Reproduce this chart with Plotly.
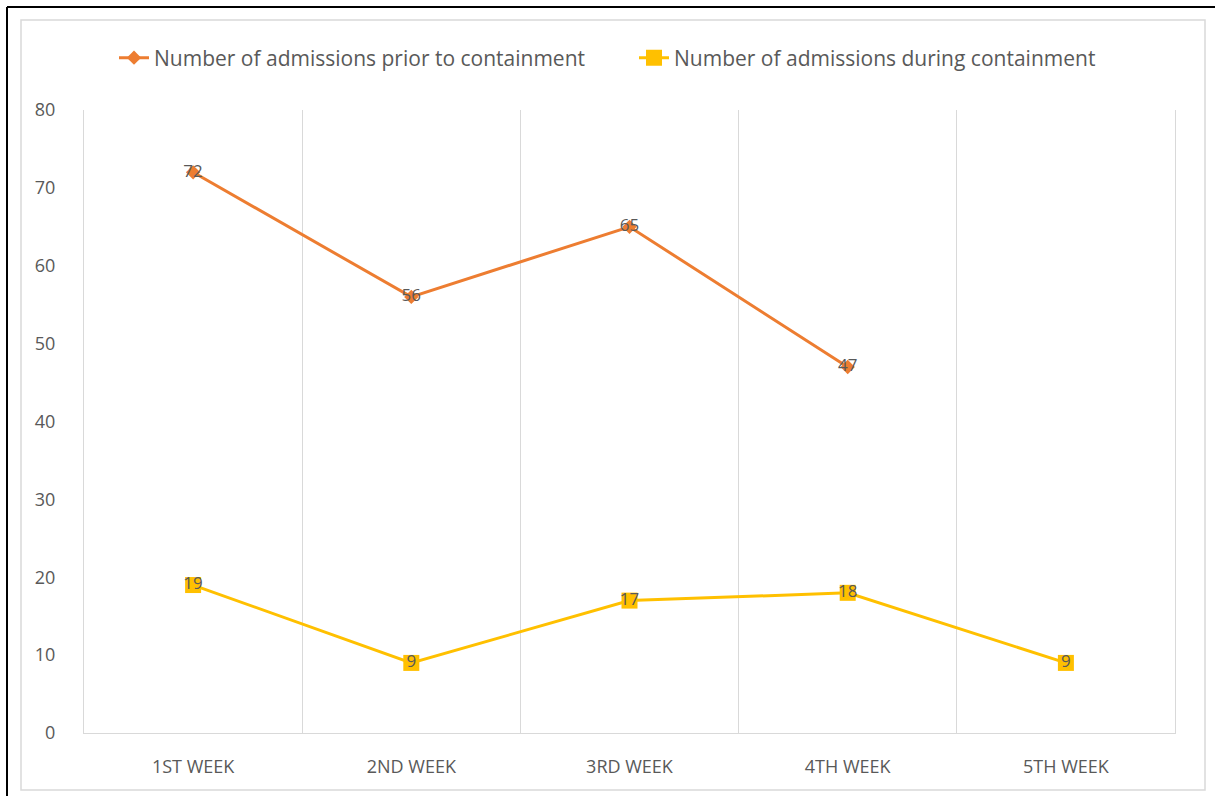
import plotly.graph_objects as go

weeks = ["1ST WEEK", "2ND WEEK", "3RD WEEK", "4TH WEEK", "5TH WEEK"]
prior = [72, 56, 65, 47, None]
during = [19, 9, 17, 18, 9]

W, H = 1215, 796
L, R, T, B = 84, 1175, 110, 733
pw, ph = R - L, B - T

def px(x):
    return (x - L) / pw

def py(y):
    return (B - y) / ph

grey = "#595959"
grid = "#D9D9D9"
font = "Open Sans"

fig = go.Figure()
fig.add_trace(go.Scatter(
    x=weeks, y=prior, name="Number of admissions prior to containment",
    mode="lines+markers+text", text=[str(v) if v is not None else "" for v in prior],
    textposition="middle center", textfont=dict(color=grey, size=17, family=font),
    line=dict(color="#ED7D31", width=3), marker=dict(symbol="diamond", size=11, color="#ED7D31"),
    cliponaxis=False,
))
fig.add_trace(go.Scatter(
    x=weeks, y=during, name="Number of admissions during containment",
    mode="lines+markers+text", text=[str(v) for v in during],
    textposition="middle center", textfont=dict(color=grey, size=17, family=font),
    line=dict(color="#FFC000", width=3), marker=dict(symbol="square", size=16, color="#FFC000"),
    cliponaxis=False,
))

shapes = [
    dict(type="rect", xref="paper", yref="paper", x0=px(21), x1=px(1205), y0=py(20), y1=py(790),
         line=dict(color=grid, width=1.5), layer="below"),
    dict(type="line", xref="paper", yref="paper", x0=px(7), x1=px(7), y0=py(7), y1=py(800),
         line=dict(color="black", width=2)),
    dict(type="line", xref="paper", yref="paper", x0=px(7), x1=px(1220), y0=py(7), y1=py(7),
         line=dict(color="black", width=2)),
]

fig.update_layout(
    width=W, height=H,
    margin=dict(l=L, r=W - R, t=T, b=H - B, autoexpand=False),
    paper_bgcolor="white", plot_bgcolor="white",
    font=dict(family=font, color=grey, size=17),
    shapes=shapes,
    showlegend=True,
    legend=dict(orientation="h", x=px(114), xanchor="left", y=py(58), yanchor="middle",
                font=dict(size=21, color=grey, family=font), entrywidth=475, entrywidthmode="pixels",
                bgcolor="rgba(0,0,0,0)"),
    xaxis=dict(type="category", range=[-0.5, 4.5], tickson="boundaries", showgrid=True,
               gridcolor=grid, gridwidth=1, showline=True, linecolor=grid, linewidth=1,
               ticks="", ticklabelstandoff=17, tickfont=dict(size=18, color=grey, family=font),
               zeroline=False, fixedrange=True),
    yaxis=dict(range=[0, 80], dtick=10, showgrid=False, showline=True, mirror=True,
               linecolor=grid, linewidth=1, ticks="", ticklabelstandoff=24,
               tickfont=dict(size=18, color=grey, family=font), zeroline=False),
)

fig.write_html("out.html")
